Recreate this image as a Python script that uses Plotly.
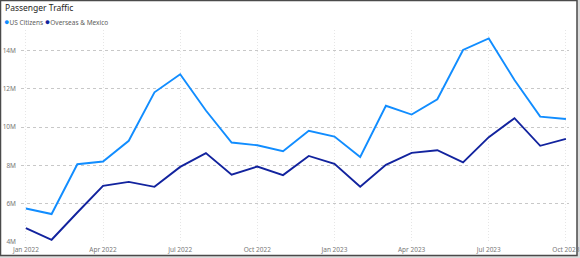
import plotly.graph_objects as go

months = ["Jan 2022", "Feb 2022", "Mar 2022", "Apr 2022", "May 2022", "Jun 2022",
          "Jul 2022", "Aug 2022", "Sep 2022", "Oct 2022", "Nov 2022", "Dec 2022",
          "Jan 2023", "Feb 2023", "Mar 2023", "Apr 2023", "May 2023", "Jun 2023",
          "Jul 2023", "Aug 2023", "Sep 2023", "Oct 2023"]

us_citizens = [5.75, 5.46, 8.06, 8.20, 9.28, 11.81, 12.75, 10.86, 9.19, 9.05, 8.74,
               9.80, 9.50, 8.44, 11.11, 10.65, 11.45, 14.02, 14.62, 12.45, 10.54, 10.42]
overseas_mexico = [4.73, 4.12, 5.54, 6.93, 7.14, 6.88, 7.92, 8.64, 7.51, 7.94, 7.49,
                   8.49, 8.08, 6.88, 8.03, 8.65, 8.79, 8.15, 9.47, 10.46, 9.02, 9.38]

x_ticks = ["Jan 2022", "Apr 2022", "Jul 2022", "Oct 2022", "Jan 2023", "Apr 2023", "Jul 2023", "Oct 2023"]
y_tickvals = [4e6, 6e6, 8e6, 10e6, 12e6, 14e6]
y_ticktext = ["4M", "6M", "8M", "10M", "12M", "14M"]

c_us = "#118DFF"
c_ov = "#12239E"

fig = go.Figure()
fig.add_trace(go.Scatter(x=months, y=[v * 1e6 for v in us_citizens], mode="lines",
                         name="US Citizens", line=dict(color=c_us, width=1.9)))
fig.add_trace(go.Scatter(x=months, y=[v * 1e6 for v in overseas_mexico], mode="lines",
                         name="Overseas & Mexico", line=dict(color=c_ov, width=1.9)))

W, H = 580, 258
ml, mr, mt, mb = 21, 11, 30, 15
pw, ph = W - ml - mr, H - mt - mb

def px_x(p):
    return (p - ml) / pw

def px_y(p):
    return (H - mb - p) / ph

fig.add_shape(type="rect", xref="paper", yref="paper",
              x0=px_x(0.5), x1=px_x(577), y0=px_y(0.5), y1=px_y(255.5),
              line=dict(color="#4a4a4a", width=1.5), fillcolor="white", layer="below")

fig.add_annotation(xref="paper", yref="paper", x=px_x(3), y=px_y(7), xanchor="left", yanchor="middle",
                   text="Passenger Traffic", showarrow=False,
                   font=dict(family="Noto Sans", size=8.5, color="#252423"))
fig.add_annotation(xref="paper", yref="paper", x=px_x(2), y=px_y(21), xanchor="left", yanchor="middle",
                   text=f'<span style="color:{c_us};font-size:9px">●</span>US Citizens '
                        f'<span style="color:{c_ov};font-size:9px">●</span>Overseas &amp; Mexico',
                   showarrow=False, font=dict(family="Noto Sans", size=6.5, color="#605E5C"))

fig.update_layout(
    width=W, height=H,
    margin=dict(l=ml, r=mr, t=mt, b=mb, autoexpand=False),
    paper_bgcolor="#dcdcdc",
    plot_bgcolor="rgba(0,0,0,0)",
    showlegend=False,
    font=dict(family="Noto Sans", size=6.5, color="#777777"),
)
fig.update_xaxes(type="category", range=[-0.19, 21.12], tickmode="array", tickvals=x_ticks,
                 automargin=False, ticklabelstandoff=1,
                 showgrid=True, gridcolor="#e6e6e6", griddash="1px,2px", gridwidth=1,
                 showline=False, zeroline=False, ticks="", tickfont=dict(size=6.5, color="#777777"))
fig.update_yaxes(range=[3.95e6, 15.06e6], tickmode="array", tickvals=y_tickvals, ticktext=y_ticktext,
                 automargin=False, ticklabelstandoff=4,
                 showgrid=True, gridcolor="#c8c8c8", griddash="3px,3px", gridwidth=1,
                 showline=False, zeroline=False, ticks="", tickfont=dict(size=6.5, color="#777777"))

fig.write_html("out.html")
